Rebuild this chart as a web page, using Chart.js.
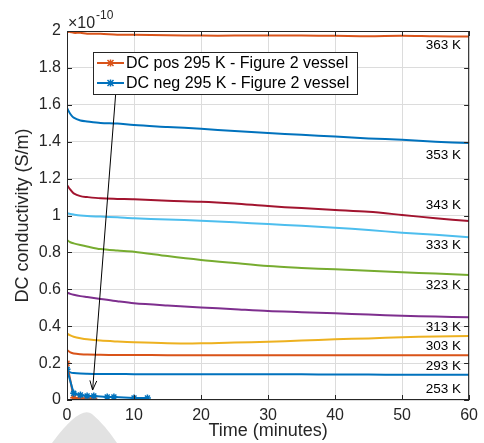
<!DOCTYPE html>
<html>
<head>
<meta charset="utf-8">
<script src="https://cdn.jsdelivr.net/npm/chart.js@4/dist/chart.umd.min.js"></script>
<style>
  html, body { margin: 0; padding: 0; background: #fff; }
  #box { width: 484px; height: 443px; }
</style>
</head>
<body>
<div id="box"><canvas id="grafico"></canvas></div>
<script>
// tiempo en minutos (curvas largas)
var tiempo = [0, 0.5, 1, 2, 3, 5, 7.5, 10, 15, 20, 25, 30, 35, 40, 45, 50, 55, 60];

// conductividad en unidades de 1e-10 S/m
var k363 = [1.995, 1.995, 1.99, 1.99, 1.985, 1.985, 1.98, 1.98, 1.977, 1.975, 1.975, 1.976, 1.975, 1.974, 1.972, 1.974, 1.971, 1.97];
var k353 = [1.583, 1.55, 1.53, 1.515, 1.51, 1.502, 1.498, 1.49, 1.48, 1.47, 1.458, 1.447, 1.437, 1.428, 1.418, 1.41, 1.4, 1.393];
var k343 = [1.165, 1.14, 1.12, 1.105, 1.1, 1.093, 1.09, 1.088, 1.08, 1.075, 1.065, 1.051, 1.04, 1.03, 1.02, 1.003, 0.985, 0.97];
var k333 = [1.012, 1.008, 1.005, 1.0, 0.997, 0.994, 0.99, 0.985, 0.978, 0.972, 0.963, 0.954, 0.944, 0.934, 0.921, 0.907, 0.895, 0.882];
var k323 = [0.867, 0.855, 0.849, 0.84, 0.832, 0.818, 0.81, 0.804, 0.78, 0.759, 0.742, 0.726, 0.716, 0.708, 0.7, 0.692, 0.685, 0.678];
var k313 = [0.582, 0.575, 0.57, 0.563, 0.558, 0.548, 0.535, 0.524, 0.512, 0.502, 0.492, 0.482, 0.476, 0.47, 0.463, 0.457, 0.452, 0.448];
var k303 = [0.361, 0.35, 0.343, 0.335, 0.329, 0.322, 0.317, 0.313, 0.308, 0.307, 0.311, 0.316, 0.322, 0.329, 0.334, 0.34, 0.344, 0.347];
var k293 = [0.271, 0.258, 0.252, 0.248, 0.246, 0.245, 0.244, 0.244, 0.243, 0.243, 0.243, 0.243, 0.243, 0.243, 0.242, 0.242, 0.242, 0.242];
var k253 = [0.16, 0.15, 0.146, 0.143, 0.142, 0.141, 0.141, 0.14, 0.14, 0.14, 0.14, 0.139, 0.139, 0.138, 0.138, 0.137, 0.137, 0.137];

// medidas DC del recipiente de la figura 2
var tiempoPos = [0, 1, 2, 3, 4];
var dcPos = [0.199, 0.012, 0.01, 0.01, 0.009];
var tiempoNeg = [0, 1, 2, 3, 4, 6, 7, 10, 12];
var dcNeg = [0.166, 0.036, 0.027, 0.022, 0.022, 0.016, 0.016, 0.011, 0.011];

var etiquetasTemp = ["363 K", "353 K", "343 K", "333 K", "323 K", "313 K", "303 K", "293 K", "253 K"];
var alturaEtiquetas = [1.924, 1.328, 1.057, 0.84, 0.623, 0.396, 0.293, 0.184, 0.06];
var coloresTemp = ["#D95319", "#0072BD", "#A2142F", "#4DBEEE", "#77AC30", "#7E2F8E", "#EDB120", "#D95319", "#0072BD"];

var etiquetasLeyenda = ["DC pos 295 K - Figure 2 vessel", "DC neg 295 K - Figure 2 vessel"];
var ticksX = [0, 10, 20, 30, 40, 50, 60];
var ticksY = [0, 0.2, 0.4, 0.6, 0.8, 1, 1.2, 1.4, 1.6, 1.8, 2];

// flecha desde la leyenda hasta los puntos DC (coordenadas de datos)
var flechaDesde = [7.25, 1.653];
var flechaHasta = [3.82, 0.054];

var fuente = "'Liberation Sans', Arial, Helvetica, sans-serif";

function puntos(xs, ys) {
    return xs.map(function (x, i) { return { x: x, y: ys[i] }; });
}

var curvas = [k363, k353, k343, k333, k323, k313, k303, k293, k253];
var datasets = [];

datasets.push({
    label: etiquetasLeyenda[1],
    data: puntos(tiempoNeg, dcNeg),
    borderColor: "#0072BD",
    backgroundColor: "#0072BD",
    borderWidth: 2,
    pointStyle: "star",
    pointRadius: 3.5,
    pointBorderWidth: 1.5,
    order: 0
});
datasets.push({
    label: etiquetasLeyenda[0],
    data: puntos(tiempoPos, dcPos),
    borderColor: "#D95319",
    backgroundColor: "#D95319",
    borderWidth: 2,
    pointStyle: "star",
    pointRadius: 3.5,
    pointBorderWidth: 1.5,
    order: 1
});
curvas.forEach(function (c, i) {
    datasets.push({
        label: etiquetasTemp[i],
        data: puntos(tiempo, c),
        borderColor: coloresTemp[i],
        borderWidth: 2,
        pointRadius: 0,
        tension: 0.3,
        order: 2
    });
});

var extras = {
    id: "extras",
    beforeDraw: function (chart) {
        var ctx = chart.ctx;
        ctx.save();
        // marca de agua gris
        ctx.fillStyle = "#e2e2e2";
        ctx.beginPath();
        ctx.moveTo(52, 443);
        ctx.quadraticCurveTo(80, 405, 92, 414);
        ctx.quadraticCurveTo(105, 425, 117, 443);
        ctx.closePath();
        ctx.fill();
        ctx.restore();
    },
    afterDraw: function (chart) {
        var ctx = chart.ctx;
        var a = chart.chartArea;
        var sx = chart.scales.x, sy = chart.scales.y;
        ctx.save();

        // marco y marcas interiores
        ctx.strokeStyle = "#262626";
        ctx.lineWidth = 1;
        ctx.strokeRect(a.left + 0.5, a.top + 0.5, a.right - a.left - 1, a.bottom - a.top - 1);
        ctx.beginPath();
        ticksX.forEach(function (t) {
            var px = Math.round(sx.getPixelForValue(t)) + 0.5;
            ctx.moveTo(px, a.bottom); ctx.lineTo(px, a.bottom - 5);
            ctx.moveTo(px, a.top); ctx.lineTo(px, a.top + 5);
        });
        ticksY.forEach(function (t) {
            var py = Math.round(sy.getPixelForValue(t)) + 0.5;
            ctx.moveTo(a.left, py); ctx.lineTo(a.left + 5, py);
            ctx.moveTo(a.right, py); ctx.lineTo(a.right - 5, py);
        });
        ctx.stroke();

        // exponente
        ctx.fillStyle = "#262626";
        ctx.textBaseline = "alphabetic";
        ctx.textAlign = "left";
        ctx.font = "16px " + fuente;
        ctx.fillText("\u00d710", a.left + 1, a.top - 3);
        ctx.font = "12px " + fuente;
        ctx.fillText("-10", a.left + 29, a.top - 12);

        // etiquetas de temperatura
        ctx.fillStyle = "#000";
        ctx.font = "13.5px " + fuente;
        ctx.textAlign = "right";
        ctx.textBaseline = "middle";
        etiquetasTemp.forEach(function (t, i) {
            ctx.fillText(t, a.right - 8, sy.getPixelForValue(alturaEtiquetas[i]));
        });

        // flecha
        var x0 = sx.getPixelForValue(flechaDesde[0]), y0 = sy.getPixelForValue(flechaDesde[1]);
        var x1 = sx.getPixelForValue(flechaHasta[0]), y1 = sy.getPixelForValue(flechaHasta[1]);
        ctx.strokeStyle = "#000";
        ctx.lineWidth = 1;
        ctx.beginPath();
        ctx.moveTo(x0, y0); ctx.lineTo(x1, y1);
        ctx.stroke();
        var ang = Math.atan2(y1 - y0, x1 - x0);
        ctx.beginPath();
        ctx.moveTo(x1, y1);
        ctx.lineTo(x1 - 10 * Math.cos(ang - 0.35), y1 - 10 * Math.sin(ang - 0.35));
        ctx.moveTo(x1, y1);
        ctx.lineTo(x1 - 10 * Math.cos(ang + 0.35), y1 - 10 * Math.sin(ang + 0.35));
        ctx.stroke();

        // leyenda
        var lx = 93, ly = 52, lw = 264, lh = 42;
        ctx.fillStyle = "#fff";
        ctx.fillRect(lx, ly, lw, lh);
        ctx.strokeStyle = "#262626";
        ctx.strokeRect(lx + 0.5, ly + 0.5, lw, lh);
        var colores = ["#D95319", "#0072BD"];
        etiquetasLeyenda.forEach(function (txt, i) {
            var yy = ly + 11 + i * 20;
            ctx.strokeStyle = colores[i];
            ctx.lineWidth = 2;
            ctx.beginPath();
            ctx.moveTo(lx + 4, yy); ctx.lineTo(lx + 31, yy);
            ctx.stroke();
            ctx.lineWidth = 1.5;
            ctx.beginPath();
            var mx = lx + 17.5;
            ctx.moveTo(mx - 3, yy - 3); ctx.lineTo(mx + 3, yy + 3);
            ctx.moveTo(mx - 3, yy + 3); ctx.lineTo(mx + 3, yy - 3);
            ctx.moveTo(mx, yy - 3.5); ctx.lineTo(mx, yy + 3.5);
            ctx.stroke();
            ctx.fillStyle = "#000";
            ctx.font = "16px " + fuente;
            ctx.textAlign = "left";
            ctx.fillText(txt, lx + 33, yy + 1);
        });
        ctx.restore();
    }
};

var ctx = document.getElementById("grafico").getContext("2d");
new Chart(ctx, {
    type: "line",
    data: { datasets: datasets },
    plugins: [extras],
    options: {
        responsive: true,
        maintainAspectRatio: false,
        animation: false,
        layout: { padding: { top: 31, right: 14, left: 0, bottom: 0 } },
        plugins: { legend: { display: false }, tooltip: { enabled: false } },
        scales: {
            x: {
                type: "linear",
                min: 0, max: 60,
                afterBuildTicks: function (s) { s.ticks = ticksX.map(function (v) { return { value: v }; }); },
                afterFit: function (s) { s.height = 43; },
                grid: { color: "#dcdcdc", drawTicks: false },
                border: { display: false },
                ticks: { color: "#262626", font: { family: fuente, size: 16 }, padding: 6, maxRotation: 0 },
                title: { display: true, text: "Time (minutes)", color: "#262626", font: { family: fuente, size: 18 }, padding: { top: 0, bottom: 1 } }
            },
            y: {
                type: "linear",
                min: 0, max: 2,
                afterBuildTicks: function (s) { s.ticks = ticksY.map(function (v) { return { value: v }; }); },
                afterFit: function (s) { s.width = 67; },
                grid: { color: "#dcdcdc", drawTicks: false },
                border: { display: false },
                ticks: {
                    color: "#262626", font: { family: fuente, size: 16 }, padding: 6,
                    callback: function (v) { return String(Math.round(v * 10) / 10); }
                },
                title: { display: true, text: "DC conductivity (S/m)", color: "#262626", font: { family: fuente, size: 18 }, padding: { top: 12, bottom: 0 } }
            }
        }
    }
});
</script>
</body>
</html>
